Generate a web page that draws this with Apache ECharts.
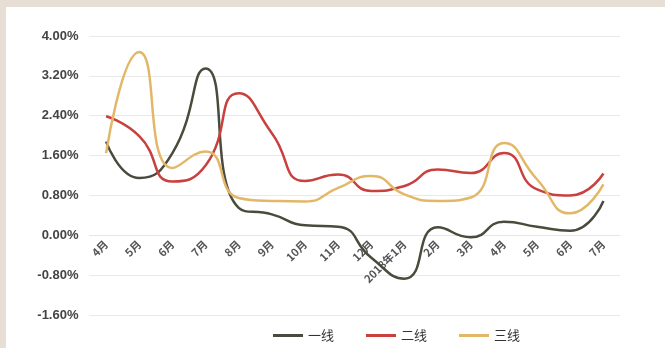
<!DOCTYPE html>
<html>
<head>
<meta charset="utf-8">
<script src="https://cdn.jsdelivr.net/npm/echarts@6/dist/echarts.min.js"></script>
<style>
  html, body {
    margin: 0;
    padding: 0;
    background: #e7ded5;
  }
  #chart {
    position: absolute;
    left: 6px;
    top: 7px;
    width: 659px;
    height: 341px;
    background: #ffffff;
  }
</style>
</head>
<body>
<div id="chart"></div>
<script>
// Month labels (Apr 2017 - Jul 2018)
const months = ['4月', '5月', '6月', '7月', '8月', '9月', '10月', '11月', '12月', '2018年1月', '2月', '3月', '4月', '5月', '6月', '7月']

// Month-on-month change, %
const tier1 = [1.88, 1.15, 1.65, 3.35, 0.55, 0.42, 0.20, 0.17, -0.45, -0.87, 0.16, -0.04, 0.27, 0.17, 0.09, 0.69]
const tier2 = [2.39, 1.99, 1.08, 1.40, 2.85, 2.05, 1.09, 1.22, 0.89, 0.99, 1.32, 1.25, 1.65, 0.92, 0.80, 1.24]
const tier3 = [1.65, 3.68, 1.35, 1.68, 0.75, 0.69, 0.68, 0.95, 1.19, 0.82, 0.69, 0.76, 1.85, 1.12, 0.44, 1.02]

const seriesNames = ['一线', '二线', '三线']
const seriesColors = ['#4a4b3c', '#c8413f', '#e2b868']

const yMin = -1.6
const yMax = 4.0

const gridTop = 29
const gridBottom = 33
const chartHeight = 341

// the category axis sits on the 0% line; onZero is unreliable here, so shift it up by hand
const plotHeight = chartHeight - gridTop - gridBottom
const zeroOffset = -plotHeight * (0 - yMin) / (yMax - yMin)

const chart = echarts.init(document.getElementById('chart'))

const makeLine = (name, data, color) => ({
  name: name,
  type: 'line',
  data: data,
  smooth: 0.55,
  symbol: 'none',
  lineStyle: {
    color: color,
    width: 2.5
  },
  itemStyle: {
    color: color
  }
})

const option = {
  animation: false,
  grid: {
    left: 83.5,
    right: 45,
    top: gridTop,
    bottom: gridBottom,
    outerBoundsMode: 'none'
  },
  legend: {
    data: seriesNames,
    left: 262,
    top: 317,
    icon: 'rect',
    itemWidth: 30,
    itemHeight: 3,
    itemGap: 32,
    textStyle: {
      fontSize: 13,
      color: '#333',
      fontFamily: 'Noto Sans CJK SC'
    }
  },
  xAxis: {
    type: 'category',
    data: months,
    boundaryGap: true,
    position: 'bottom',
    offset: zeroOffset,
    axisLine: {
      onZero: false,
      lineStyle: { color: '#e6e6e6' }
    },
    axisTick: { show: false },
    axisLabel: {
      interval: 0,
      rotate: 45,
      margin: 7,
      fontSize: 11,
      fontWeight: 'bold',
      color: '#555',
      fontFamily: 'Noto Sans CJK SC'
    }
  },
  yAxis: {
    type: 'value',
    min: yMin,
    max: yMax,
    interval: 0.8,
    axisLine: { show: false },
    axisTick: { show: false },
    splitLine: {
      lineStyle: { color: '#e9e9e9' }
    },
    axisLabel: {
      fontSize: 13,
      fontWeight: 'bold',
      color: '#444',
      margin: 11,
      fontFamily: 'Liberation Sans',
      formatter: (v) => v.toFixed(2) + '%'
    }
  },
  series: [
    makeLine(seriesNames[0], tier1, seriesColors[0]),
    makeLine(seriesNames[1], tier2, seriesColors[1]),
    makeLine(seriesNames[2], tier3, seriesColors[2])
  ]
}

chart.setOption(option)
</script>
</body>
</html>
